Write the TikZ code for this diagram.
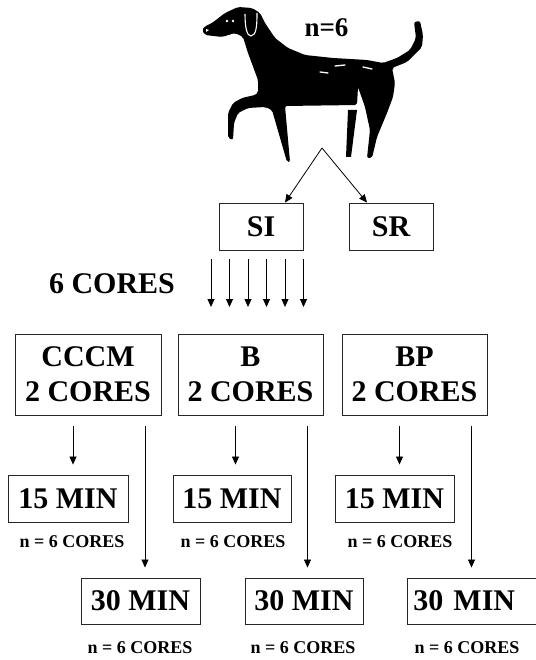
\documentclass[tikz,border=0pt]{standalone}
\usepackage{fontspec}
\setmainfont{Liberation Serif}
\usetikzlibrary{arrows.meta}

\begin{document}
\begin{tikzpicture}[x=1pt, y=-1pt]
    % Define styles
    \tikzstyle{box} = [rectangle, draw=black!85, line width=0.9pt, inner sep=0pt, align=center, font=\bfseries\fontsize{30}{35}\selectfont]
    \tikzstyle{label} = [font=\bfseries\fontsize{30}{35}\selectfont]
    \tikzstyle{note} = [font=\bfseries\fontsize{18}{20}\selectfont]
    \tikzstyle{arrow} = [line width=0.8pt, -{Triangle[length=8pt, width=7pt]}]

    \useasboundingbox (0,0) rectangle (535,660);

    % Dog
    \fill[black, rounded corners=2pt] (202,30) -- (204,27) -- (212,23) -- (225,13) -- (238,7) -- (252,8)
        -- (260,13) -- (265,23) -- (275,38) -- (288,48) -- (305,55) -- (333,58) -- (367,60)
        -- (383,63) -- (397,58) -- (410,50) -- (416,38) -- (414,22) -- (420,21) -- (423,35)
        -- (422,47) -- (407,62) -- (392,68) -- (395,83) -- (393,97) -- (387,113) -- (377,137)
        -- (372,158) -- (367,158) -- (370,130) -- (365,107) -- (358,87) -- (357,105)
        -- (285,106) -- (290,162) -- (287,162) -- (272,110) -- (265,107) -- (248,108)
        -- (238,113) -- (234,123) -- (233,140) -- (228,138) -- (228,113) -- (233,103)
        -- (242,98) -- (255,95) -- (258,93) -- (258,80) -- (248,53) -- (243,37)
        -- (235,33) -- (222,37) -- (205,35) -- cycle;
    \fill[black] (348,110) -- (357,110) -- (351,157) -- (346,157) -- cycle;
    \fill[white] (206,29) -- (209,30) -- (206,32) -- cycle;
    \draw[white, line width=1.1pt] (245,14) .. controls (245,28) and (247,36) .. (251,36)
        .. controls (256,35) and (257,28) .. (257,13);
    \fill[white] (227,21) circle (1.3) (233,21) circle (1.3);
    \draw[white, line width=1.3pt, line cap=round] (320,72) -- (328,73) (335,66) -- (345,65)
        (363,67) -- (372,69);
    \node (count) [label] at (326.5,28) {\fontsize{27}{30}\selectfont n=6};

    % Split into SI and SR
    \coordinate (split) at (322,148);
    \node (si) [box, minimum width=84pt, minimum height=47pt] at (261,226.5) {SI};
    \node (sr) [box, minimum width=84pt, minimum height=47pt] at (391,226.5) {SR};
    \draw [arrow] (split) -- ([xshift=24pt]si.north);
    \draw [arrow] (split) -- ([xshift=-24pt]sr.north);

    % Six cores
    \node (cores) [label] at (112,284) {6 CORES};
    \foreach \i in {0,...,5} {
        \coordinate (cs\i) at ({211+18.5*\i},259);
        \coordinate (ce\i) at ({211+18.5*\i},307);
        \draw [arrow] (cs\i) -- (ce\i);
    }

    % Groups
    \node (cccm) [box, minimum width=146pt, minimum height=81pt] at (88,374.5) {CCCM\\2 CORES};
    \node (b) [box, minimum width=145pt, minimum height=81pt] at (250.5,374.5) {B\\2 CORES};
    \node (bp) [box, minimum width=145pt, minimum height=81pt] at (414.5,374.5) {BP\\2 CORES};

    % 15 minutes
    \node (qa) [box, minimum width=120pt, minimum height=47pt] at (68,498.5) {15 MIN};
    \node (qb) [box, minimum width=118pt, minimum height=47pt] at (232,498.5) {15 MIN};
    \node (qc) [box, minimum width=119pt, minimum height=47pt] at (394.5,498.5) {15 MIN};
    \node (nqa) [note] at (72,542) {n = 6 CORES};
    \node (nqb) [note] at (233,542) {n = 6 CORES};
    \node (nqc) [note] at (400,542) {n = 6 CORES};

    % 30 minutes (last box runs past the page edge)
    \node (ha) [box, minimum width=119pt, minimum height=46pt] at (140.5,601) {30 MIN};
    \node (hb) [box, minimum width=118pt, minimum height=46pt] at (304,601) {30 MIN};
    \node (hc) [box, anchor=west, minimum width=170pt, text width=158pt, inner xsep=6pt, align=left, minimum height=46pt] at (407,601) {30 MIN};
    \node (nha) [note] at (140,648) {n = 6 CORES};
    \node (nhb) [note] at (303,648) {n = 6 CORES};
    \node (nhc) [note] at (467,648) {n = 6 CORES};

    % Arrows down from each group
    \foreach \t/\m/\l in {cccm/qa/ha, b/qb/hb, bp/qc/hc} {
        \coordinate (\t-s) at ([xshift=-15pt]\t.south);
        \coordinate (\t-l) at ([xshift=57pt]\t.south);
        \draw [arrow, shorten <=11pt, shorten >=10pt] (\t-s) -- (\t-s |- \m.north);
        \draw [arrow, shorten <=11pt, shorten >=10pt] (\t-l) -- (\t-l |- \l.north);
    }
\end{tikzpicture}
\end{document}
